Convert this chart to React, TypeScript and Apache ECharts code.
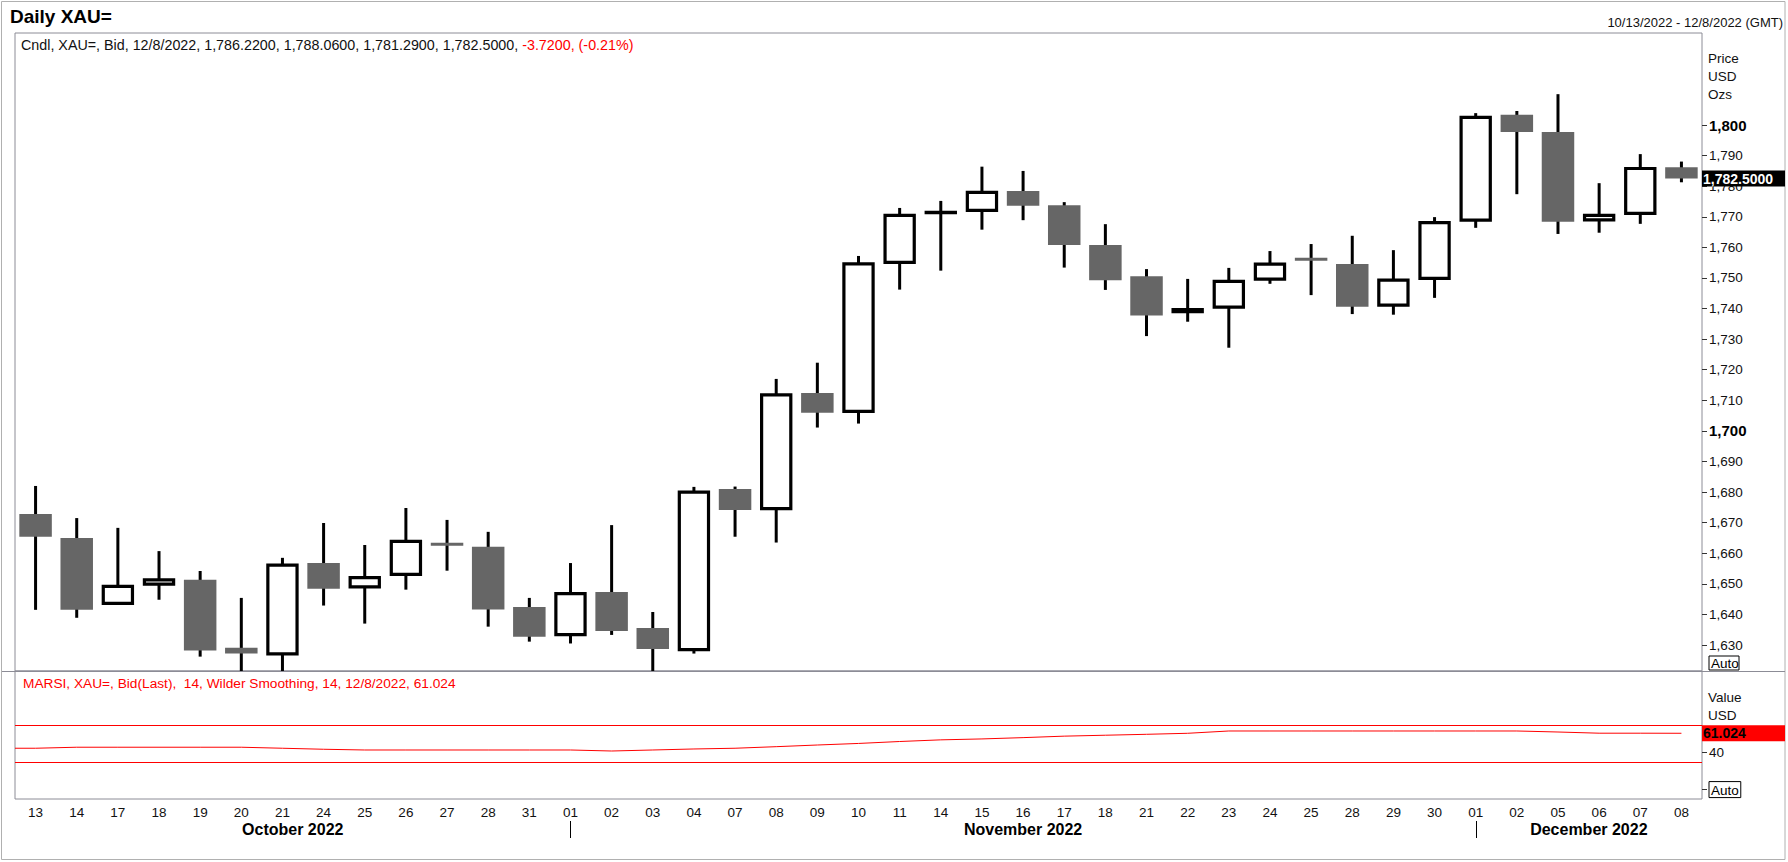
import React, { useEffect, useRef } from "react";
import * as echarts from "echarts";

const dates = ["13","14","17","18","19","20","21","24","25","26","27","28","31","01","02","03","04","07","08","09","10","11","14","15","16","17","18","21","22","23","24","25","28","29","30","01","02","05","06","07","08"];
const opens = [1672.8,1665.0,1643.6,1649.9,1651.3,1629.1,1627.1,1656.8,1649.0,1653.1,1663.4,1662.1,1642.4,1633.4,1647.3,1635.6,1628.5,1681.0,1674.6,1712.4,1706.4,1755.1,1771.4,1772.1,1778.4,1773.8,1760.8,1750.6,1739.0,1740.5,1749.6,1756.6,1754.6,1741.1,1749.9,1768.9,1803.4,1797.7,1769.0,1771.1,1786.22];
const highs = [1682.0,1671.5,1668.3,1660.7,1654.2,1645.4,1658.5,1669.9,1662.7,1674.8,1670.9,1667.0,1645.4,1656.8,1669.2,1640.8,1681.7,1681.8,1717.0,1722.3,1757.2,1772.9,1775.2,1786.4,1785.0,1774.8,1767.6,1752.9,1749.7,1753.3,1758.8,1761.1,1763.8,1759.1,1769.9,1803.9,1804.6,1810.1,1781.0,1790.5,1788.06];
const lows = [1641.5,1638.9,1643.6,1644.8,1626.2,1620.0,1620.0,1642.9,1637.0,1648.1,1654.3,1636.0,1631.1,1630.5,1633.3,1620.0,1627.2,1665.4,1663.5,1701.1,1702.4,1746.2,1752.4,1765.8,1768.9,1753.4,1746.1,1731.0,1735.7,1727.2,1748.1,1744.4,1738.2,1738.0,1743.5,1766.4,1777.4,1764.4,1764.8,1767.7,1781.29];
const closes = [1665.4,1641.5,1649.2,1651.3,1628.2,1627.2,1656.1,1648.4,1652.0,1663.9,1662.5,1641.6,1632.7,1646.8,1634.6,1628.7,1680.0,1674.1,1711.8,1705.9,1754.6,1770.5,1771.5,1778.0,1773.6,1760.8,1749.3,1737.7,1739.7,1748.9,1754.5,1755.6,1740.6,1749.3,1768.1,1802.5,1797.7,1768.4,1770.5,1785.8,1782.5];
const rsiValues = [44.8,45.9,45.9,45.9,45.9,45.9,44.8,43.7,42.9,42.9,42.9,42.9,42.9,42.9,41.8,42.9,44.0,44.8,46.5,48.3,50.0,52.1,53.9,54.9,56.3,57.9,58.9,59.9,61.0,63.5,63.5,63.5,63.5,63.5,63.5,63.5,63.5,62.4,61.1,61.1,61.024];
const rsiLevels = [70, 30];
const priceTicks = [1630,1640,1650,1660,1670,1680,1690,1700,1710,1720,1730,1740,1750,1760,1770,1780,1790,1800];
const rsiTicks = [0, 40];
const monthNames = ["October 2022", "November 2022", "December 2022"];
const monthFirst = [0, 13, 35];

const FONT = "'Liberation Sans', Arial, sans-serif";
const fmt = (v: number) => v.toLocaleString("en-US");

export default function App() {
  const ref = useRef<HTMLDivElement>(null);
  useEffect(() => {
    if (!ref.current) return;
    const chart = echarts.init(ref.current, null, { renderer: "svg" });
    const candleData = dates.map((_, i) => [i, opens[i], closes[i], lows[i], highs[i]]);
    const GL = 15, GW = 1687;
    const option: any = {
      animation: false,
      backgroundColor: "#ffffff",
      textStyle: { fontFamily: FONT },
      grid: [
        { left: GL, top: 33, width: GW, height: 638, show: true, borderColor: "#8c8c96", borderWidth: 1, containLabel: false },
        { left: GL, top: 671, width: GW, height: 128, show: true, borderColor: "#8c8c96", borderWidth: 1, containLabel: false },
      ],
      xAxis: [
        { type: "category", gridIndex: 0, data: dates, boundaryGap: true, show: false },
        {
          type: "category", gridIndex: 1, data: dates, boundaryGap: true,
          axisLine: { show: false }, axisTick: { show: false },
          axisLabel: { interval: 0, fontSize: 13.5, color: "#111", margin: 6, fontFamily: FONT },
        },
      ],
      yAxis: [
        {
          type: "value", gridIndex: 0, position: "right", min: 1621.5, max: 1830.1,
          splitLine: { show: false }, axisLine: { show: false },
          axisTick: { show: true, length: 5, customValues: priceTicks, lineStyle: { color: "#333" } },
          axisLabel: {
            customValues: priceTicks, margin: 7, fontSize: 13.5, color: "#111", fontFamily: FONT,
            formatter: (v: number) => (v % 100 === 0 ? `{b|${fmt(v)}}` : fmt(v)),
            rich: { b: { fontSize: 15, fontWeight: "bold", color: "#000", fontFamily: FONT } },
          },
        },
        {
          type: "value", gridIndex: 1, position: "right", min: -10.2, max: 128.5,
          splitLine: { show: false }, axisLine: { show: false },
          axisTick: { show: true, length: 5, customValues: rsiTicks, lineStyle: { color: "#333" } },
          axisLabel: {
            customValues: rsiTicks, margin: 7, fontSize: 13.5, color: "#111", fontFamily: FONT,
            formatter: (v: number) => (v === 0 ? "{box|Auto}" : String(v)),
            rich: { box: { borderColor: "#000", borderWidth: 1, padding: [2, 2, 0, 2], fontSize: 13.5, color: "#000", fontFamily: FONT } },
          },
        },
      ],
      series: [
        {
          type: "custom", xAxisIndex: 0, yAxisIndex: 0, clip: true,
          data: candleData,
          encode: { x: 0, y: [1, 2, 3, 4] },
          renderItem: (params: any, api: any) => {
            const i = api.value(0);
            const o = api.value(1), c = api.value(2), l = api.value(3), h = api.value(4);
            const pO = api.coord([i, o]);
            const x = pO[0];
            const yO = pO[1];
            const yC = api.coord([i, c])[1];
            const yL = api.coord([i, l])[1];
            const yH = api.coord([i, h])[1];
            const cs = params.coordSys;
            const top = cs.y, bottom = cs.y + cs.height;
            const clamp = (v: number) => Math.max(top, Math.min(bottom, v));
            const children: any[] = [
              { type: "line", shape: { x1: x, y1: clamp(yH), x2: x, y2: clamp(yL) }, style: { stroke: "#000", lineWidth: 3 } },
            ];
            if (c >= o) {
              const yt = Math.min(yO, yC), yb = Math.max(yO, yC);
              children.push({ type: "rect", shape: { x: x - 14.6, y: yt, width: 29.2, height: yb - yt }, style: { fill: "#fff", stroke: "#000", lineWidth: 3.2 } });
            } else {
              let yt = yO, yb = yC;
              if (yb - yt < 3) { const m = (yt + yb) / 2; yt = m - 1.5; yb = m + 1.5; }
              children.push({ type: "rect", shape: { x: x - 16.25, y: yt, width: 32.5, height: yb - yt }, style: { fill: "#666666" } });
            }
            return { type: "group", children };
          },
        },
        {
          type: "line", xAxisIndex: 1, yAxisIndex: 1, data: rsiValues,
          symbol: "none", showSymbol: false,
          lineStyle: { color: "#ff0000", width: 1 },
          markLine: {
            silent: true, symbol: "none", label: { show: false },
            lineStyle: { color: "#ff0000", width: 1, type: "solid" },
            data: rsiLevels.map((v) => ({ yAxis: v })),
          },
        },
      ],
    };
    chart.setOption(option);

    const last = dates.length - 1;
    const xAt = (i: number) => chart.convertToPixel({ xAxisIndex: 1 }, i) as number;
    const yPrice = chart.convertToPixel({ yAxisIndex: 0 }, closes[last]) as number;
    const yRsi = chart.convertToPixel({ yAxisIndex: 1 }, rsiValues[last]) as number;
    const yRsi0 = chart.convertToPixel({ yAxisIndex: 1 }, rsiValues[0]) as number;

    const graphics: any[] = [
      { type: "rect", shape: { x: 1.5, y: 1.5, width: 1783.5, height: 858 }, style: { fill: null, stroke: "#b0b0b0", lineWidth: 1 }, silent: true },
      { type: "line", shape: { x1: 2, y1: 671.5, x2: 1785, y2: 671.5 }, style: { stroke: "#8c8c96", lineWidth: 1 } },
      { type: "line", shape: { x1: GL, y1: yRsi0, x2: xAt(0), y2: yRsi0 }, style: { stroke: "#ff0000", lineWidth: 1 } },
      { type: "text", x: 10, y: 16, style: { text: "Daily XAU=", font: `bold 19px ${FONT}`, fill: "#000", verticalAlign: "middle" } },
      { type: "text", x: 1783, y: 22, style: { text: "10/13/2022 - 12/8/2022 (GMT)", font: `13px ${FONT}`, fill: "#111", align: "right", verticalAlign: "middle" } },
      {
        type: "text", x: 21, y: 45,
        style: {
          text: "{a|Cndl, XAU=, Bid, 12/8/2022, 1,786.2200, 1,788.0600, 1,781.2900, 1,782.5000, }{r|-3.7200, (-0.21%)}",
          verticalAlign: "middle",
          rich: {
            a: { fontSize: 14.3, fontFamily: FONT, fill: "#111" },
            r: { fontSize: 14.3, fontFamily: FONT, fill: "#ff0000" },
          },
        },
      },
      { type: "text", x: 1708, y: 58, style: { text: "Price", font: `13.5px ${FONT}`, fill: "#111", verticalAlign: "middle" } },
      { type: "text", x: 1708, y: 76, style: { text: "USD", font: `13.5px ${FONT}`, fill: "#111", verticalAlign: "middle" } },
      { type: "text", x: 1708, y: 94, style: { text: "Ozs", font: `13.5px ${FONT}`, fill: "#111", verticalAlign: "middle" } },
      { type: "rect", shape: { x: 1709, y: 656, width: 30, height: 14 }, style: { fill: "#fff", stroke: "#000", lineWidth: 1 } },
      { type: "text", x: 1711, y: 663.5, style: { text: "Auto", font: `13.5px ${FONT}`, fill: "#000", verticalAlign: "middle" } },
      { type: "text", x: 1708, y: 697, style: { text: "Value", font: `13.5px ${FONT}`, fill: "#111", verticalAlign: "middle" } },
      { type: "text", x: 1708, y: 715, style: { text: "USD", font: `13.5px ${FONT}`, fill: "#111", verticalAlign: "middle" } },
      { type: "text", x: 23, y: 683, style: { text: "MARSI, XAU=, Bid(Last),  14, Wilder Smoothing, 14, 12/8/2022, 61.024", font: `13.7px ${FONT}`, fill: "#ff0000", verticalAlign: "middle" } },
      { type: "rect", z: 100, shape: { x: 1702, y: yPrice - 8, width: 83, height: 16 }, style: { fill: "#000" } },
      { type: "text", z: 101, x: 1703, y: yPrice, style: { text: closes[last].toFixed(4).replace(/^(\d)(\d{3})/, "$1,$2"), font: `bold 14px ${FONT}`, fill: "#fff", verticalAlign: "middle" } },
      { type: "rect", z: 100, shape: { x: 1702, y: yRsi - 8, width: 83, height: 16 }, style: { fill: "#ff0000" } },
      { type: "text", z: 101, x: 1703, y: yRsi, style: { text: rsiValues[last].toFixed(3), font: `bold 14px ${FONT}`, fill: "#000", verticalAlign: "middle" } },
    ];
    const edges = monthFirst.map((f, k) => (k === 0 ? GL : xAt(f)));
    edges.push(GL + GW);
    monthNames.forEach((name, k) => {
      const cx = (edges[k] + edges[k + 1]) / 2;
      graphics.push({ type: "text", x: cx, y: 829, style: { text: name, font: `bold 16px ${FONT}`, fill: "#000", align: "center", verticalAlign: "middle" } });
      if (k > 0) {
        const bx = Math.round(edges[k]) + 0.5;
        graphics.push({ type: "line", shape: { x1: bx, y1: 821, x2: bx, y2: 838 }, style: { stroke: "#000", lineWidth: 1 } });
      }
    });
    chart.setOption({ graphic: graphics });
    return () => chart.dispose();
  }, []);
  return <div ref={ref} style={{ position: "absolute", left: 0, top: 0, width: 1788, height: 862, background: "#fff" }} />;
}
